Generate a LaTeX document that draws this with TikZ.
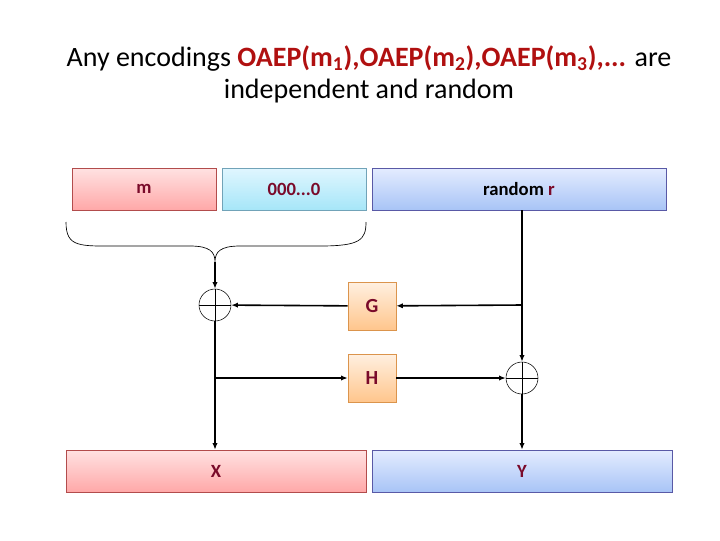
\documentclass[tikz,border=0pt]{standalone}
\usepackage{fontspec}
\setmainfont{Carlito}
\usetikzlibrary{arrows.meta}
\definecolor{tred}{HTML}{B01010}
\definecolor{maroon}{HTML}{7A0A2A}
\definecolor{btop}{HTML}{E4ECFF}
\definecolor{bbot}{HTML}{A8C4F6}
\definecolor{ctop}{HTML}{E0F6FF}
\definecolor{cbot}{HTML}{A6E6F8}
\definecolor{ptop}{HTML}{FFE2E2}
\definecolor{pbot}{HTML}{FFA8A8}
\begin{document}
\begin{tikzpicture}[x=0.75pt,y=-0.75pt,
  box/.style={draw,minimum height=31.5pt,font=\bfseries\fontsize{14}{16}\selectfont,text=maroon,inner sep=0},
  pinkbox/.style={box,draw=red!40!gray,top color=ptop,bottom color=pbot},
  cyanbox/.style={box,draw=cyan!40!gray,top color=ctop,bottom color=cbot},
  bluebox/.style={box,draw=blue!30!gray,top color=btop,bottom color=bbot},
  obox/.style={box,draw=orange!80!black!70,top color=orange!12,bottom color=orange!45,minimum width=36pt,minimum height=36pt,font=\bfseries\fontsize{15}{17}\selectfont},
  xor/.style={draw,circle,minimum size=24pt,inner sep=0,path picture={\draw (path picture bounding box.north)--(path picture bounding box.south) (path picture bounding box.west)--(path picture bounding box.east);}},
  arr/.style={-{Latex[length=5pt,width=4pt]},line width=1.2pt}]
\useasboundingbox (0,0) rectangle (720,540);
\node[align=center,font=\fontsize{21}{24}\selectfont] (title) at (369,74) {Any encodings \textcolor{tred}{\bfseries OAEP(m$_{\mathbf 1}$),OAEP(m$_{\mathbf 2}$),OAEP(m$_{\mathbf 3}$),...} are\\independent and random};
\node[pinkbox,minimum width=108pt] (m) at (144,189) {m};
\node[cyanbox,minimum width=108pt] (z) at (294,189) {000...0};
\node[bluebox,minimum width=220.5pt] (r) at (519,189) {\textcolor{black}{random} r};
\node[xor] (x1) at (215,305) {};
\node[xor] (x2) at (522,378) {};
\node[obox] (G) at (372,306) {G};
\node[obox] (H) at (372,378) {H};
\node[pinkbox,minimum width=225pt] (X) at (216,471) {X};
\node[bluebox,minimum width=225pt] (Y) at (522,471) {Y};
\coordinate (bt) at (215,262);
\coordinate (bg) at (522,305);
\coordinate (bh) at (215,378);
\draw[line width=0.5pt] (66,222) .. controls (66,248) and (80,246) .. (120,246) -- (190,246) .. controls (210,246) and (215,252) .. (bt)
  .. controls (215,252) and (220,246) .. (240,246) -- (320,246) .. controls (360,246) and (366,240) .. (366,222);
\draw[arr] (bt) -- (x1);
\draw[arr] (x1) -- (X.north -| x1);
\draw[arr] (bh) -- (H);
\draw[arr] (H) -- (x2);
\draw[line width=1.2pt] (r.south -| x2) -- (bg);
\draw[arr] (bg) -- (x2);
\draw[arr] (bg) -- (G);
\draw[arr] (G) -- (x1);
\draw[arr] (x2) -- (Y);
\end{tikzpicture}
\end{document}
